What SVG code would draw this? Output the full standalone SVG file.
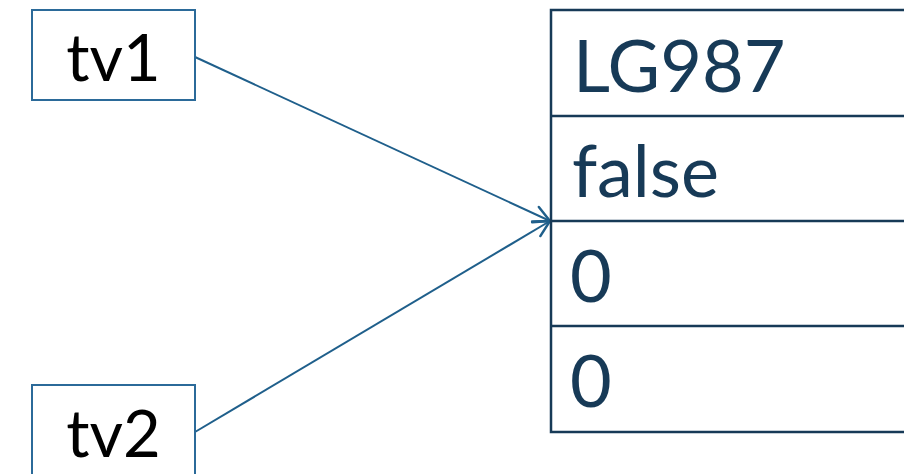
<svg xmlns="http://www.w3.org/2000/svg" width="904" height="474" viewBox="0 0 904 474">
<defs>
<style>
.var rect{fill:#fff;stroke:#2b6a99;stroke-width:2}
.var text{font-family:Lato,"Liberation Sans",sans-serif;font-size:65px;fill:#000;text-anchor:middle}
.cell line,.cell path{stroke:#173a57;stroke-width:2.5;fill:none}
.val{font-family:Lato,"Liberation Sans",sans-serif;font-size:72px;fill:#173a57}
.conn{stroke:#1f5f8b;stroke-width:2;fill:none}
</style>
<marker id="arr" viewBox="0 0 20 20" refX="18" refY="10" markerWidth="20" markerHeight="20" markerUnits="userSpaceOnUse" orient="auto">
<path d="M2 2 L18 10 L2 18" fill="none" stroke="#1f5f8b" stroke-width="2.5" stroke-linecap="round"/>
</marker>
</defs>
<g id="connectors">
<line class="conn" x1="195" y1="57" x2="550" y2="221" marker-end="url(#arr)"/>
<line class="conn" x1="195" y1="432" x2="550" y2="221" marker-end="url(#arr)"/>
</g>
<g id="tv1" class="var">
<rect x="32" y="10" width="163" height="90"/>
<text x="113.5" y="81">tv1</text>
</g>
<g id="tv2" class="var">
<rect x="32" y="385" width="163" height="100"/>
<text x="113.5" y="457">tv2</text>
</g>
<g id="object" class="cell">
<path d="M910 10 H551 V432 H910"/>
<line x1="551" y1="116" x2="910" y2="116"/>
<line x1="551" y1="221" x2="910" y2="221"/>
<line x1="551" y1="326" x2="910" y2="326"/>
<text class="val" x="573" y="92">LG987</text>
<text class="val" x="572" y="197">false</text>
<text class="val" x="570" y="302">0</text>
<text class="val" x="570" y="407">0</text>
</g>
</svg>
